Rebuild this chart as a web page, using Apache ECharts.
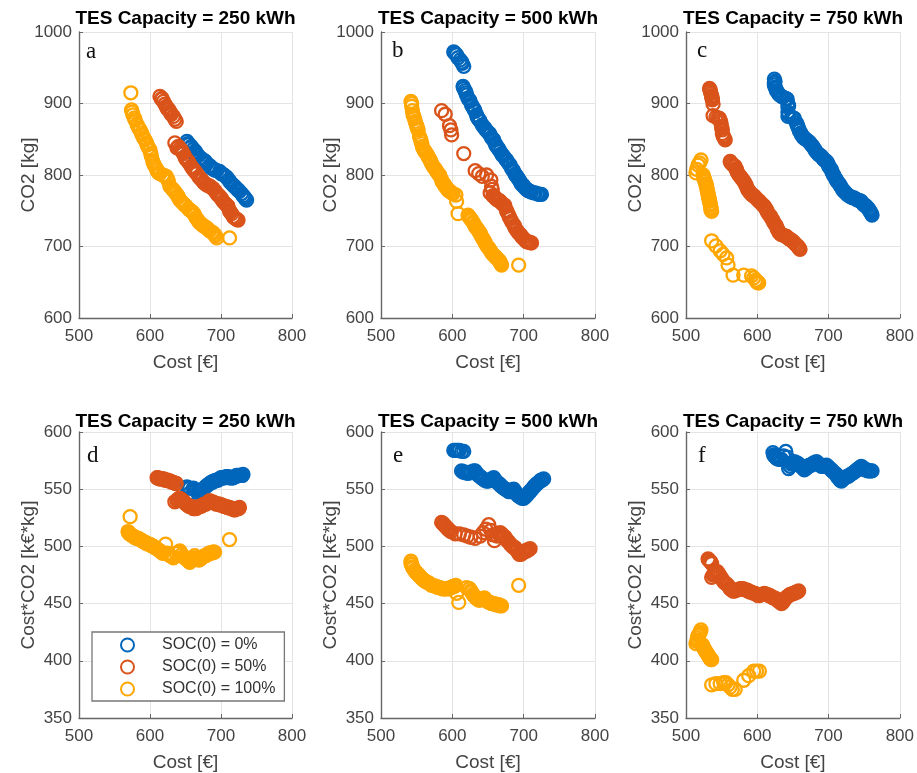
<!DOCTYPE html>
<html>
<head>
<meta charset="utf-8">
<script src="https://cdn.jsdelivr.net/npm/echarts@6/dist/echarts.min.js"></script>
<style>
  html, body { margin: 0; padding: 0; background: #fff; }
  #chart { width: 917px; height: 773px; }
</style>
</head>
<body>
<div id="chart"></div>
<script>
// Series names (initial state of charge)
const socNames = ['SOC(0) = 0%', 'SOC(0) = 50%', 'SOC(0) = 100%'];
const capacities = ['TES Capacity = 250 kWh', 'TES Capacity = 500 kWh', 'TES Capacity = 750 kWh'];
const panelLetters = ['a', 'b', 'c', 'd', 'e', 'f'];

// Axis ranges and tick steps
const costTicks = { min: 500, max: 800, step: 100 };
const co2Ticks = { min: 600, max: 1000, step: 100 };
const prodTicks = { min: 350, max: 600, step: 50 };

// ---- Row 1: [cost €, CO2 kg] ----
const a_soc0 = [[652,847],[655,843],[658,840],[661,836],[664,833],[668,827],[671,824],[675,821],[680,816],[684,813],[689,809],[694,806],[698,805],[703,801],[708,797],[711,793],[715,788],[718,785],[722,781],[726,777],[729,774],[733,769],[736,765],
  [653,844],[657,838],[662,830],[666,829],[673,818],[678,819],[686,810],[691,807],[700,802],[705,799],[713,790],[720,783],[724,779],[731,771],[734,767]];
const a_soc50 = [[614,910],[616,906],[619,903],[621,899],[623,896],[626,892],[628,889],[630,885],[633,882],[635,878],[637,875],[635,845],[640,840],[642,837],[645,833],[647,830],[649,826],[652,821],[655,817],[658,812],[662,807],[666,802],[669,797],[673,793],[676,789],[680,786],[685,784],[689,781],[692,777],[694,774],[698,770],[701,766],[703,763],[707,759],[710,756],[712,750],[715,746],[717,742],[721,739],[724,737],
  [617,907],[624,893],[629,887],[638,838],[644,835],[650,823],[654,819],[660,809],[664,804],[671,795],[678,788],[683,785],[687,782],[696,772],[700,768],[705,761],[709,757],[713,748],[719,740],[722,738]];
const a_soc100 = [[573,915],[574,891],[576,884],[579,877],[582,870],[586,863],[589,856],[593,849],[596,842],[600,835],[602,826],[604,819],[607,812],[610,806],[614,802],[618,800],[623,798],[626,791],[628,784],[633,779],[637,774],[640,769],[642,765],[647,760],[651,756],[656,751],[661,747],[665,740],[670,733],[675,729],[680,726],[684,722],[689,719],[692,715],[694,712],[712,712],
  [575,888],[578,880],[584,866],[588,859],[591,852],[595,845],[598,838],[601,830],[605,816],[609,809],[612,803],[620,799],[625,794],[631,781],[635,776],[639,771],[645,762],[649,758],[654,753],[659,749],[663,744],[668,736],[673,731],[678,727],[682,724],[687,720],[691,717]];

const b_soc0 = [[602,972],[606,968],[608,964],[611,961],[614,956],[616,952],[615,924],[618,918],[620,912],[622,907],[625,903],[627,898],[630,893],[632,889],[634,884],[636,879],[639,875],[642,870],[646,865],[650,860],[653,856],[655,852],[658,849],[660,844],[662,840],[665,836],[667,833],[670,828],[674,823],[677,819],[681,814],[683,809],[686,805],[688,801],[690,798],[693,794],[695,791],[697,787],[700,784],[703,781],[707,778],[711,776],[716,775],[721,773],[725,773],
  [604,970],[613,958],[616,921],[619,915],[624,905],[628,896],[631,891],[635,881],[638,877],[644,867],[648,862],[652,858],[657,850],[661,842],[664,838],[669,830],[672,826],[676,821],[679,816],[685,807],[689,800],[692,796],[696,789],[699,786],[702,782],[705,779],[709,777],[714,775],[719,774],[723,773]];
const b_soc50 = [[585,890],[590,885],[596,869],[598,863],[599,856],[616,830],[632,806],[637,802],[642,798],[648,800],[654,793],[655,784],[653,775],[657,771],[660,768],[664,765],[667,763],[671,759],[674,756],[676,750],[679,744],[681,739],[683,735],[687,729],[690,723],[694,718],[697,714],[701,710],[704,707],[708,706],[711,705],
  [656,780],[659,770],[662,766],[666,764],[669,761],[673,758],[677,748],[680,741],[685,732],[688,726],[692,720],[696,716],[699,712],[703,708],[706,706],[710,705]];
const b_soc100 = [[542,903],[543,896],[544,890],[545,884],[547,879],[548,875],[550,869],[552,863],[554,854],[556,848],[557,844],[559,837],[561,834],[564,830],[566,826],[569,821],[571,816],[573,812],[577,807],[580,802],[583,798],[585,793],[588,788],[590,784],[593,780],[597,777],[601,774],[605,772],[606,763],[608,746],[622,744],[625,740],[627,737],[630,732],[632,728],[636,723],[639,719],[641,714],[644,709],[647,703],[651,698],[654,693],[658,688],[661,685],[665,681],[667,678],[669,674],[693,674],
  [543,900],[546,882],[549,872],[551,866],[555,851],[558,840],[562,832],[567,824],[570,818],[575,810],[578,805],[582,800],[586,790],[589,786],[592,782],[595,778],[599,775],[623,742],[626,738],[629,734],[634,726],[637,721],[640,716],[643,711],[646,706],[649,700],[653,695],[656,690],[660,686],[663,683],[666,680],[668,676]];

const c_soc0 = [[624,934],[624,929],[624,926],[626,921],[627,918],[631,912],[636,909],[642,906],[643,900],[643,895],[643,888],[643,882],[648,881],[652,879],[655,873],[657,868],[659,862],[662,856],[665,852],[669,849],[674,845],[678,840],[681,835],[685,830],[689,827],[692,823],[696,820],[699,816],[701,811],[704,807],[706,802],[708,798],[711,793],[714,789],[717,784],[720,779],[723,776],[727,772],[732,769],[736,768],[741,765],[746,763],[750,758],[754,755],[757,751],[759,748],[761,744],
  [625,931],[625,923],[629,915],[634,910],[640,907],[644,897],[644,885],[650,880],[656,870],[658,865],[661,859],[664,854],[667,851],[672,847],[676,842],[680,837],[683,832],[687,828],[691,825],[694,821],[698,818],[700,813],[703,809],[705,804],[707,800],[710,795],[712,791],[716,786],[719,781],[722,777],[725,774],[730,770],[734,768],[739,766],[744,764],[748,760],[752,757],[756,753],[758,749],[760,746]];
const c_soc50 = [[533,921],[534,917],[535,914],[536,909],[537,905],[538,899],[538,883],[542,881],[547,879],[549,873],[550,868],[551,863],[551,858],[553,853],[555,849],[562,819],[565,815],[569,812],[571,807],[573,802],[577,797],[580,793],[583,788],[585,784],[587,779],[590,775],[593,772],[596,770],[600,766],[603,763],[607,759],[610,756],[613,751],[615,747],[619,742],[622,737],[624,732],[627,728],[629,723],[631,719],[636,716],[641,714],[644,711],[648,709],[651,706],[655,702],[658,699],[660,696],
  [534,919],[536,911],[537,907],[545,880],[548,876],[550,866],[552,855],[554,851],[563,817],[567,813],[570,809],[572,804],[575,799],[578,795],[582,790],[584,786],[586,781],[589,777],[592,773],[595,771],[598,768],[602,764],[605,761],[609,757],[612,753],[614,749],[617,744],[620,739],[623,734],[626,730],[628,725],[630,721],[633,717],[639,715],[643,712],[646,710],[650,707],[653,704],[657,700],[659,697]];
const c_soc100 = [[521,821],[519,817],[517,814],[515,808],[514,803],[524,800],[525,795],[527,791],[528,786],[529,782],[530,777],[531,772],[532,767],[533,763],[534,758],[535,753],[536,749],[536,708],[542,701],[548,694],[552,689],[557,684],[559,674],[566,660],[581,660],[592,659],[595,656],[598,653],[600,650],[602,649],
  [525,797],[526,793],[528,788],[529,784],[530,779],[531,774],[532,769],[533,765],[534,760],[535,755],[535,751],[599,651],[601,649]];

// ---- Row 2: [cost €, cost*CO2 k€*kg] ----
const d_soc0 = [[652,552],[656,551],[659,544],[661,551],[665,549],[668,548],[671,549],[675,550],[678,552],[682,554],[686,556],[689,557],[693,558],[696,558],[700,560],[703,560],[707,561],[710,561],[714,560],[717,560],[721,561],[724,562],[728,562],[731,563],
  [654,551],[657,547],[663,550],[667,547],[673,549],[680,553],[684,555],[688,556],[691,557],[695,558],[698,559],[702,560],[705,560],[709,561],[712,560],[716,560],[719,561],[722,562],[726,562],[730,562]];
const d_soc50 = [[610,560],[613,559],[616,559],[619,559],[622,558],[625,558],[629,557],[633,556],[637,555],[635,539],[639,541],[642,542],[646,540],[649,538],[653,536],[656,535],[660,534],[663,533],[667,534],[670,535],[674,536],[677,537],[681,538],[684,540],[688,539],[691,538],[695,537],[698,537],[702,536],[705,535],[709,534],[712,534],[716,533],[720,532],[723,533],[726,534],
  [611,560],[614,559],[618,559],[621,558],[624,558],[627,557],[631,556],[636,555],[638,540],[641,542],[644,541],[648,539],[651,537],[655,535],[658,535],[661,533],[665,533],[669,535],[672,535],[676,537],[679,537],[683,539],[686,539],[690,538],[693,537],[697,537],[700,536],[704,535],[707,535],[711,534],[714,533],[718,532],[722,533],[725,533]];
const d_soc100 = [[572,526],[569,513],[571,511],[574,510],[576,509],[579,508],[582,507],[586,506],[589,505],[592,504],[595,503],[599,502],[602,501],[605,500],[609,498],[614,496],[618,494],[622,502],[626,493],[629,492],[633,490],[637,494],[642,496],[645,493],[649,490],[653,488],[656,486],[660,489],[663,492],[666,490],[669,488],[673,490],[677,492],[681,493],[684,494],[688,495],[691,495],[712,506],
  [570,512],[573,510],[578,508],[581,507],[584,507],[588,505],[591,504],[594,503],[597,502],[601,501],[604,500],[607,499],[612,497],[616,495],[624,494],[628,492],[631,491],[640,495],[647,491],[651,489],[655,487],[658,488],[662,490],[668,489],[671,489],[675,491],[679,492],[683,494],[686,494],[690,495]];

const e_soc0 = [[602,584],[606,584],[610,584],[613,583],[616,583],[613,566],[617,565],[620,564],[623,564],[627,565],[632,566],[635,563],[639,561],[643,559],[648,557],[652,558],[658,560],[661,557],[665,555],[668,553],[672,551],[675,550],[679,548],[682,549],[686,550],[689,547],[693,544],[696,543],[700,542],[703,544],[707,547],[710,549],[714,552],[717,554],[721,556],[724,558],[728,559],
  [604,584],[608,584],[615,565],[618,565],[622,564],[625,565],[630,566],[634,564],[637,562],[641,560],[645,558],[650,557],[655,559],[660,558],[663,556],[667,554],[670,552],[674,550],[677,549],[681,548],[684,549],[688,548],[691,545],[695,543],[698,542],[702,543],[705,545],[709,548],[712,550],[716,553],[719,555],[723,557],[726,558]];
const e_soc50 = [[585,521],[588,519],[591,517],[594,515],[598,513],[604,511],[610,511],[616,510],[621,509],[626,508],[632,507],[639,509],[643,512],[647,515],[651,519],[654,514],[657,510],[659,505],[663,509],[667,512],[670,510],[674,508],[677,505],[681,502],[684,500],[688,499],[691,496],[694,493],[698,494],[702,496],[705,497],[709,498],
  [587,520],[590,518],[593,516],[596,514],[661,510],[665,511],[669,511],[672,509],[676,506],[679,504],[683,501],[686,499],[690,497],[693,494],[696,493],[700,495],[704,496],[707,497]];
const e_soc100 = [[542,487],[543,484],[545,481],[548,478],[551,476],[554,474],[557,472],[561,470],[564,469],[569,467],[573,466],[578,465],[583,464],[588,463],[592,463],[597,464],[601,465],[605,466],[606,459],[609,451],[620,464],[624,463],[627,460],[630,457],[633,455],[637,453],[641,454],[645,455],[649,452],[653,451],[657,450],[661,449],[665,449],[669,448],[693,466],
  [542,485],[544,482],[547,479],[550,477],[553,475],[556,473],[559,471],[563,469],[567,468],[571,466],[576,465],[580,464],[586,463],[590,463],[595,463],[599,464],[603,465],[626,461],[629,458],[632,456],[635,454],[639,453],[643,454],[647,453],[651,451],[655,450],[659,450],[663,449],[667,448]];

const f_soc0 = [[622,582],[624,579],[627,577],[630,576],[634,576],[637,579],[640,583],[642,578],[644,568],[648,572],[652,574],[656,573],[659,571],[663,569],[666,567],[670,569],[673,571],[676,571],[679,573],[683,574],[686,572],[690,570],[693,570],[697,571],[700,569],[704,567],[707,565],[711,563],[714,560],[718,557],[721,559],[725,561],[729,562],[734,564],[738,566],[742,568],[746,570],[749,568],[753,567],[757,566],[761,566],
  [623,580],[626,578],[628,577],[632,576],[646,570],[650,573],[654,573],[658,572],[661,570],[665,568],[668,568],[672,570],[675,571],[678,572],[681,573],[685,573],[688,571],[692,570],[695,570],[699,570],[702,568],[705,566],[709,564],[712,561],[716,558],[719,558],[723,560],[727,561],[731,563],[736,565],[740,567],[744,569],[748,569],[751,567],[755,566],[759,566]];
const f_soc50 = [[531,489],[534,487],[536,485],[536,473],[540,476],[544,478],[548,474],[551,471],[555,468],[559,466],[562,463],[566,461],[570,462],[576,463],[580,463],[585,462],[588,461],[592,460],[597,459],[601,457],[606,458],[610,459],[614,458],[618,457],[622,455],[627,454],[630,452],[634,450],[638,453],[642,456],[646,458],[650,459],[654,460],[658,461],
  [532,488],[535,486],[538,475],[542,477],[546,476],[550,472],[553,469],[557,467],[561,464],[564,462],[568,461],[573,462],[578,463],[583,462],[587,461],[590,460],[595,459],[599,458],[603,457],[608,458],[612,458],[616,457],[620,456],[624,455],[628,453],[632,451],[636,451],[640,455],[644,457],[648,458],[652,459],[656,460]];
const f_soc100 = [[521,427],[519,424],[517,422],[516,418],[514,415],[523,414],[525,411],[527,409],[529,407],[531,405],[533,403],[536,401],[536,379],[542,380],[548,380],[553,381],[556,381],[559,379],[562,377],[565,375],[569,375],[581,383],[588,387],[595,391],[599,391],[603,391],
  [520,425],[518,423],[516,420],[515,417],[524,412],[526,410],[528,408],[530,406],[532,404],[534,402],[535,401]];

const panelData = [
  [a_soc0, a_soc50, a_soc100],
  [b_soc0, b_soc50, b_soc100],
  [c_soc0, c_soc50, c_soc100],
  [d_soc0, d_soc50, d_soc100],
  [e_soc0, e_soc50, e_soc100],
  [f_soc0, f_soc50, f_soc100]
];

// ---- Styling / layout ----
const COLORS = ['#0066BB', '#D9531A', '#FFA600'];
const FONT = '"Liberation Sans", Arial, Helvetica, sans-serif';
const colLeft = [79, 381, 686];
const colWidth = [213, 214, 214];
const rowTop = [32, 432];
const rowHeight = [286, 288];
const titleY = [19, 422];
const letterPos = [[86, 63], [392, 62], [697, 62], [87, 467], [393, 467], [698, 467]];

const grids = [], xAxes = [], yAxes = [], series = [], graphics = [];

for (let p = 0; p < 6; p++) {
  const col = p % 3, row = Math.floor(p / 3);
  grids.push({ left: colLeft[col], top: rowTop[row], width: colWidth[col], height: rowHeight[row] });

  const axisLine = { show: true, lineStyle: { color: '#666', width: 1.4 } };
  const axisTick = { show: true, inside: true, length: 4, lineStyle: { color: '#666', width: 1 } };
  const splitLine = { show: true, lineStyle: { color: '#e4e4e4', width: 1 } };
  const labelBase = { color: '#444', fontSize: 17, fontFamily: FONT, formatter: v => String(v) };
  const nameStyle = { color: '#444', fontSize: 19, fontFamily: FONT };

  xAxes.push({
    type: 'value', gridIndex: p,
    min: costTicks.min, max: costTicks.max, interval: costTicks.step,
    name: 'Cost [€]', nameLocation: 'middle', nameGap: 35, nameMoveOverlap: false,
    nameTextStyle: nameStyle,
    axisLine, axisTick, splitLine, axisLabel: Object.assign({ margin: 10 }, labelBase)
  });
  const yt = row === 0 ? co2Ticks : prodTicks;
  yAxes.push({
    type: 'value', gridIndex: p,
    min: yt.min, max: yt.max, interval: yt.step,
    name: row === 0 ? 'CO2 [kg]' : 'Cost*CO2 [k€*kg]',
    nameLocation: 'middle', nameGap: 41, nameMoveOverlap: false,
    nameTextStyle: nameStyle,
    axisLine, axisTick, splitLine, axisLabel: Object.assign({ margin: 7 }, labelBase)
  });

  for (let s = 0; s < 3; s++) {
    series.push({
      type: 'scatter', name: socNames[s],
      xAxisIndex: p, yAxisIndex: p,
      data: panelData[p][s],
      symbol: 'circle', symbolSize: 13,
      itemStyle: { color: 'rgba(255,255,255,0)', borderColor: COLORS[s], borderWidth: 2.3, opacity: 1 },
      emphasis: { disabled: true },
      silent: true
    });
  }

  // Panel title, centred over the plot area
  graphics.push({
    type: 'text', x: colLeft[col] + colWidth[col] / 2, y: titleY[row],
    style: { text: capacities[col], fill: '#000', font: 'bold 19px ' + FONT, textAlign: 'center', textVerticalAlign: 'middle' }
  });
  // Panel letter
  graphics.push({
    type: 'text', x: letterPos[p][0], y: letterPos[p][1],
    style: { text: panelLetters[p], fill: '#111', font: '23px "Liberation Serif", "Times New Roman", serif', textVerticalAlign: 'bottom' }
  });
}

const chart = echarts.init(document.getElementById('chart'), null, { renderer: 'canvas' });
chart.setOption({
  animation: false,
  backgroundColor: '#fff',
  grid: grids,
  xAxis: xAxes,
  yAxis: yAxes,
  series: series,
  legend: {
    data: socNames.map((n, i) => ({
      name: n,
      icon: 'circle',
      itemStyle: { color: 'rgba(255,255,255,0)', borderColor: COLORS[i], borderWidth: 2 }
    })),
    orient: 'vertical', left: 92, top: 632,
    padding: [5, 9, 4, 28],
    itemWidth: 13, itemHeight: 13, itemGap: 6,
    backgroundColor: '#fff', borderColor: '#777', borderWidth: 1.3, borderRadius: 0,
    selectedMode: false,
    textStyle: { color: '#333', fontSize: 16, fontFamily: FONT, lineHeight: 16, padding: [0, 0, 0, 23] }
  },
  graphic: graphics
});
</script>
</body>
</html>
